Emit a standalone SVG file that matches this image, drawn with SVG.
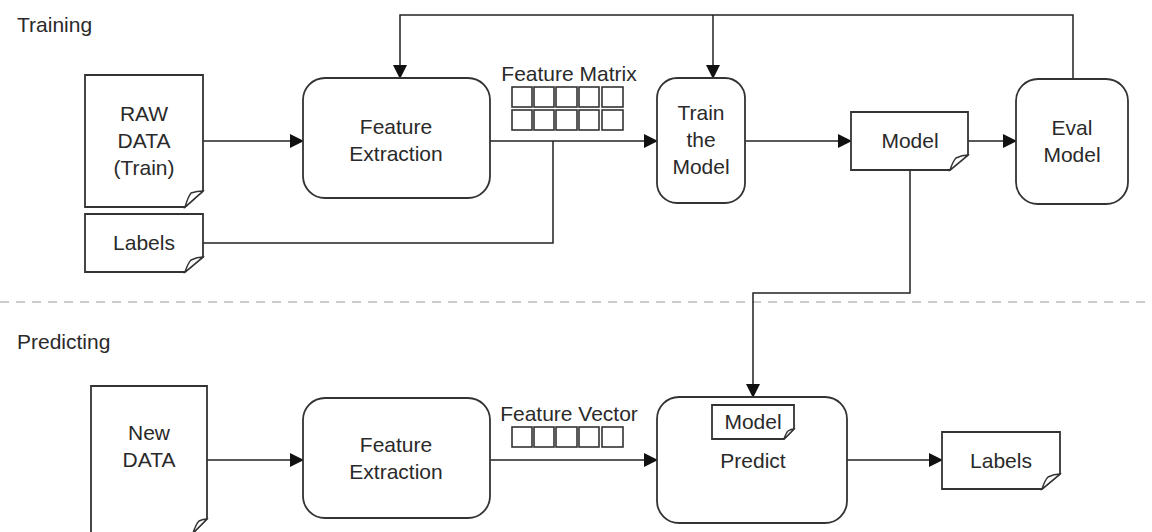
<svg xmlns="http://www.w3.org/2000/svg" width="1152" height="532" viewBox="0 0 1152 532">
  <style>
    .box { fill: #fff; stroke: #333; stroke-width: 1.8; }
    .doc { fill: #fff; stroke: #333; stroke-width: 1.8; stroke-linejoin: miter; }
    .fold { fill: #fff; stroke: #333; stroke-width: 1.4; }
    .cell { fill: #fff; stroke: #333; stroke-width: 1.6; }
    .edge { fill: none; stroke: #222; stroke-width: 1.5; }
    .sep { stroke: #999; stroke-width: 1.2; stroke-dasharray: 9 7; }
    text { font-family: "Liberation Sans", Arial, sans-serif; font-size: 21px; fill: #2a2a2a; }
    .c { text-anchor: middle; }
  </style>
  <defs>
    <marker id="arrow" markerUnits="userSpaceOnUse" markerWidth="14" markerHeight="14" viewBox="0 0 14 14" refX="13" refY="7" orient="auto">
      <path d="M0,0 L14,7 L0,14 Z" fill="#111"/>
    </marker>
  </defs>

  <rect width="1152" height="532" fill="#fff"/>

  <!-- section titles -->
  <text x="17" y="32">Training</text>
  <text x="17" y="349">Predicting</text>
  <line class="sep" x1="0" y1="302" x2="1152" y2="302"/>

  <!-- connectors -->
  <g id="connectors">
    <path class="edge" d="M203,141 H303" marker-end="url(#arrow)"/>
    <path class="edge" d="M490,141 H657" marker-end="url(#arrow)"/>
    <path class="edge" d="M203,243 H553 V141"/>
    <path class="edge" d="M745,141 H851" marker-end="url(#arrow)"/>
    <path class="edge" d="M968,141 H1016" marker-end="url(#arrow)"/>
    <path class="edge" d="M1073,79 V15 H400 V78" marker-end="url(#arrow)"/>
    <path class="edge" d="M713,15 V78" marker-end="url(#arrow)"/>
    <path class="edge" d="M910,170 V293 H753 V397" marker-end="url(#arrow)"/>
    <path class="edge" d="M207,460 H303" marker-end="url(#arrow)"/>
    <path class="edge" d="M490,460 H657" marker-end="url(#arrow)"/>
    <path class="edge" d="M847,460 H942" marker-end="url(#arrow)"/>
  </g>

  <!-- training row -->
  <g id="raw-data">
    <path class="doc" d="M85,75 H203 V191 L185,207 H85 Z"/>
    <path class="fold" d="M185,207 Q188,197 191,193 Q197,191 203,191 Z"/>
    <text class="c" x="144" y="121">RAW</text>
    <text class="c" x="144" y="148">DATA</text>
    <text class="c" x="144" y="175">(Train)</text>
  </g>

  <g id="labels-train">
    <path class="doc" d="M85,214 H203 V257 L185,272 H85 Z"/>
    <path class="fold" d="M185,272 Q188,263 191,260 Q197,257 203,257 Z"/>
    <text class="c" x="144" y="250">Labels</text>
  </g>

  <g id="feature-extraction-train">
    <rect class="box" x="303" y="78" width="187" height="120" rx="22"/>
    <text class="c" x="396" y="134">Feature</text>
    <text class="c" x="396" y="161">Extraction</text>
  </g>

  <g id="feature-matrix">
    <text class="c" x="569" y="81">Feature Matrix</text>
    <rect class="cell" x="512" y="87" width="20" height="20"/>
    <rect class="cell" x="534" y="87" width="20" height="20"/>
    <rect class="cell" x="556" y="87" width="21" height="20"/>
    <rect class="cell" x="579" y="87" width="20" height="20"/>
    <rect class="cell" x="602" y="87" width="21" height="20"/>
    <rect class="cell" x="512" y="110" width="20" height="20"/>
    <rect class="cell" x="534" y="110" width="20" height="20"/>
    <rect class="cell" x="556" y="110" width="21" height="20"/>
    <rect class="cell" x="579" y="110" width="20" height="20"/>
    <rect class="cell" x="602" y="110" width="21" height="20"/>
  </g>

  <g id="train-model">
    <rect class="box" x="657" y="78" width="88" height="125" rx="20"/>
    <text class="c" x="701" y="120">Train</text>
    <text class="c" x="701" y="147">the</text>
    <text class="c" x="701" y="174">Model</text>
  </g>

  <g id="model-doc">
    <path class="doc" d="M851,112 H968 V155 L950,170 H851 Z"/>
    <path class="fold" d="M950,170 Q953,161 956,158 Q962,155 968,155 Z"/>
    <text class="c" x="910" y="148">Model</text>
  </g>

  <g id="eval-model">
    <rect class="box" x="1016" y="79" width="112" height="125" rx="22"/>
    <text class="c" x="1072" y="135">Eval</text>
    <text class="c" x="1072" y="162">Model</text>
  </g>

  <!-- predicting row -->
  <g id="new-data">
    <path class="doc" d="M91,386 H207 V519 L193,533 H91 Z"/>
    <path class="fold" d="M193,533 Q196,524 199,521 Q203,519 207,519 Z"/>
    <text class="c" x="149" y="440">New</text>
    <text class="c" x="149" y="467">DATA</text>
  </g>

  <g id="feature-extraction-predict">
    <rect class="box" x="303" y="398" width="187" height="120" rx="22"/>
    <text class="c" x="396" y="452">Feature</text>
    <text class="c" x="396" y="479">Extraction</text>
  </g>

  <g id="feature-vector">
    <text class="c" x="569" y="421">Feature Vector</text>
    <rect class="cell" x="512" y="427" width="20" height="20"/>
    <rect class="cell" x="534" y="427" width="20" height="20"/>
    <rect class="cell" x="556" y="427" width="21" height="20"/>
    <rect class="cell" x="579" y="427" width="20" height="20"/>
    <rect class="cell" x="602" y="427" width="21" height="20"/>
  </g>

  <g id="predict">
    <rect class="box" x="657" y="397" width="190" height="126" rx="22"/>
    <path class="doc" d="M712,405 H794 V429 L784,439 H712 Z"/>
    <path class="fold" d="M784,439 Q786,433 788,431 Q791,429 794,429 Z"/>
    <text class="c" x="753" y="429">Model</text>
    <text class="c" x="753" y="468">Predict</text>
  </g>

  <g id="labels-out">
    <path class="doc" d="M942,432 H1060 V474 L1042,489 H942 Z"/>
    <path class="fold" d="M1042,489 Q1045,480 1048,477 Q1054,474 1060,474 Z"/>
    <text class="c" x="1001" y="468">Labels</text>
  </g>
</svg>
